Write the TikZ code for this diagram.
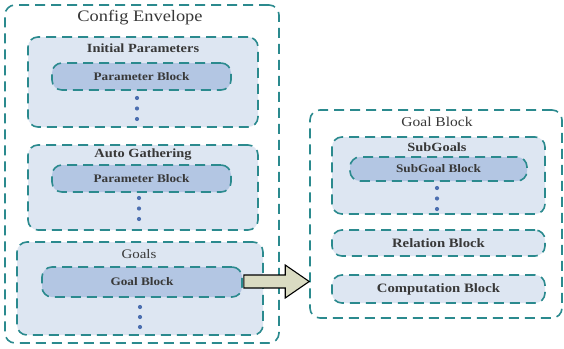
\documentclass[tikz,border=0pt]{standalone}
\usepackage{fontspec}
\setmainfont{Liberation Serif}[FakeStretch=1.15]
\usetikzlibrary{calc}
\definecolor{teal1}{HTML}{2B8A8E}
\definecolor{contfill}{HTML}{DDE6F2}
\definecolor{blockfill}{HTML}{B3C6E3}
\definecolor{dotblue}{HTML}{4C6FB0}
\definecolor{arrowfill}{HTML}{DADBC2}
\definecolor{txt}{HTML}{383838}
\tikzset{
  dbox/.style={draw=teal1, line width=1.6pt, dash pattern=on 10pt off 6pt, rounded corners=10pt, inner sep=0pt, text=txt},
  envbox/.style={dbox, fill=white},
  contbox/.style={dbox, fill=contfill},
  blockbox/.style={dbox, fill=blockfill, font=\fontsize{11.5}{13}\selectfont\bfseries},
  flatbox/.style={dbox, fill=contfill, font=\fontsize{12.8}{14}\selectfont\bfseries},
  ttl/.style={text=txt, inner sep=0pt, font=\fontsize{12.5}{14}\selectfont\bfseries},
  ttlreg/.style={text=txt, inner sep=0pt, font=\fontsize{13}{15}\selectfont},
  dotn/.style={circle, fill=dotblue, inner sep=0pt, minimum size=4.2pt},
}
\begin{document}
\begin{tikzpicture}[x=1pt, y=-1pt]
\useasboundingbox (0,0) rectangle (564,348);
% Config envelope
\node[envbox, minimum width=274pt, minimum height=338pt] (env) at (142,174) {};
\node[ttlreg, font=\fontsize{16}{18}\selectfont] (envt) at (140,18) {Config Envelope};
% Initial parameters
\node[contbox, minimum width=230pt, minimum height=90pt] (ip) at (143,82) {};
\node[ttl] (ipt) at (143,48) {Initial Parameters};
\node[blockbox, minimum width=179pt, minimum height=27pt] (pb1) at (141.5,76.5) {Parameter Block};
\node[dotn] (d11) at (137,98) {};
\node[dotn] (d12) at (137,108.5) {};
\node[dotn] (d13) at (137,119) {};
% Auto gathering
\node[contbox, minimum width=230pt, minimum height=85pt] (ag) at (143,187.5) {};
\node[ttl] (agt) at (143,155) {Auto Gathering};
\node[blockbox, minimum width=179pt, minimum height=27pt] (pb2) at (141.5,178.5) {Parameter Block};
\node[dotn] (d21) at (139,198) {};
\node[dotn] (d22) at (139,208.5) {};
\node[dotn] (d23) at (139,219) {};
% Goals
\node[contbox, minimum width=246pt, minimum height=93pt] (gl) at (140,288.5) {};
\node[ttlreg] (glt) at (139,254) {Goals};
\node[blockbox, minimum width=200pt, minimum height=30pt] (gb) at (142,282) {Goal Block};
\node[dotn] (d31) at (140,307) {};
\node[dotn] (d32) at (140,317) {};
\node[dotn] (d33) at (140,327) {};
% Right goal block
\node[envbox, minimum width=252pt, minimum height=208pt] (gbig) at (436,214) {};
\node[ttlreg, font=\fontsize{13.5}{15}\selectfont] (gbigt) at (437,121.5) {Goal Block};
\node[contbox, minimum width=213pt, minimum height=77pt] (sg) at (438.5,175.5) {};
\node[ttl] (sgt) at (437,147.5) {SubGoals};
\node[blockbox, minimum width=177pt, minimum height=24pt] (sgb) at (438.5,169) {SubGoal Block};
\node[dotn] (d41) at (437,188) {};
\node[dotn] (d42) at (437,198.5) {};
\node[dotn] (d43) at (437,209) {};
\node[flatbox, minimum width=213pt, minimum height=26pt] (rb) at (438.5,243) {Relation Block};
\node[flatbox, minimum width=213pt, minimum height=28pt] (cb) at (438.5,289) {Computation Block};
% Arrow
\coordinate (as) at ($(gb.east)+(1,-0.5)$);
\coordinate (at) at (gbig.west |- as);
\draw[draw=black, line width=1.1pt, fill=arrowfill, line join=miter]
  ($(as)+(0,-6.5)$) -- ($(at)+(-24,-6.5)$) -- ($(at)+(-24,-16.5)$) -- (at)
  -- ($(at)+(-24,16.5)$) -- ($(at)+(-24,6.5)$) -- ($(as)+(0,6.5)$) -- cycle;
\end{tikzpicture}
\end{document}
